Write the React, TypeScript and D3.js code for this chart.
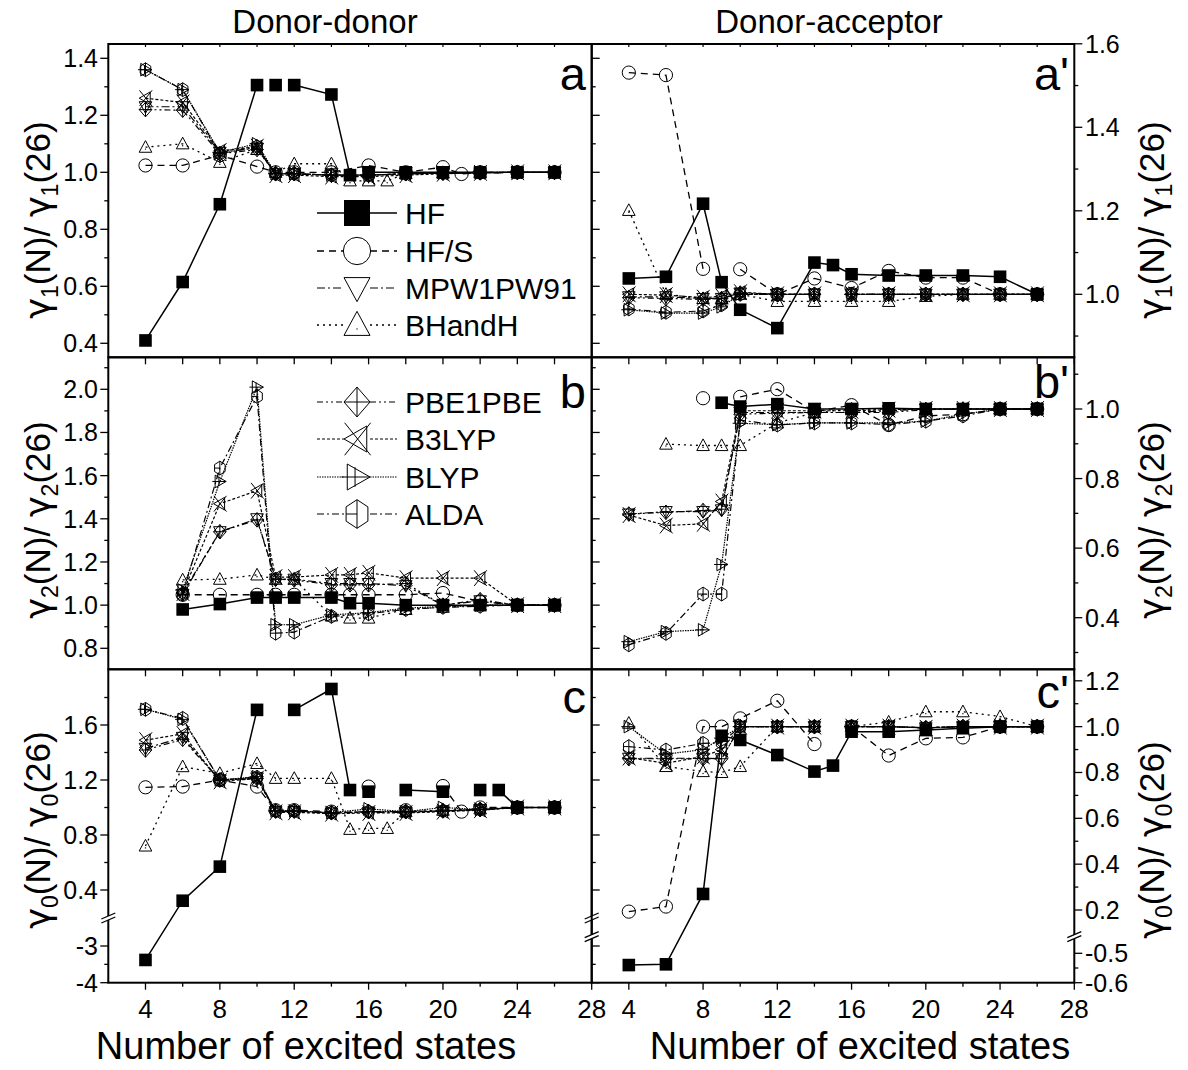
import React from 'react';
import * as d3 from 'd3';

if (typeof document !== 'undefined') document.body.style.margin = '0';

const FONT = '"Liberation Sans", Arial, Helvetica, sans-serif';
const GREEK = '"DejaVu Sans", "Liberation Sans", sans-serif';
const W = 1188;
const H = 1070;

type P = [number, number] | null;

// series order (legend order)
const NAMES = ['HF', 'HF/S', 'MPW1PW91', 'BHandH', 'PBE1PBE', 'B3LYP', 'BLYP', 'ALDA'];
const LEGEND_1 = ['HF', 'HF/S', 'MPW1PW91', 'BHandH'];
const LEGEND_2 = ['PBE1PBE', 'B3LYP', 'BLYP', 'ALDA'];

// ---------- panel a : gamma1, donor-donor ----------
const hfA: P[] = [[4, 0.41], [6, 0.615], [8, 0.888], [10, 1.306], null, [11, 1.306], null, [12, 1.306], [14, 1.273], [15, 0.99], null, [16, 1.0], [18, 1.0], [20, 1.0], [22, 1.0], [24, 1.0], [26, 1.0]];
const hfsA: P[] = [[4, 1.024], [6, 1.024], [8, 1.06], [10, 1.02], [11, 1.0], [12, 1.0], [14, 1.0], [16, 1.024], [18, 1.0], [20, 1.018], [21, 0.994], [22, 1.0], [24, 1.0], [26, 1.0]];
const mpwA: P[] = [[4, 1.23], [6, 1.23], [8, 1.07], [10, 1.085], [11, 0.995], [12, 0.995], [14, 0.99], [16, 0.99], [18, 0.995], [20, 0.997], [22, 0.998], [24, 1.0], [26, 1.0]];
const bhhA: P[] = [[4, 1.088], [6, 1.1], [8, 1.035], [10, 1.08], [11, 1.0], [12, 1.03], [14, 1.03], [15, 0.97], [16, 0.97], [17, 0.97], [18, 0.995], [20, 0.998], [22, 1.0], [24, 1.0], [26, 1.0]];
const pbeA: P[] = [[4, 1.22], [6, 1.218], [8, 1.065], [10, 1.08], [11, 0.995], [12, 0.995], [14, 0.99], [16, 0.99], [18, 0.995], [20, 0.997], [22, 0.998], [24, 1.0], [26, 1.0]];
const b3lypA: P[] = [[4, 1.26], [6, 1.245], [8, 1.075], [10, 1.09], [11, 0.99], [12, 0.99], [14, 0.985], [16, 0.985], [18, 0.99], [20, 0.995], [22, 0.998], [24, 1.0], [26, 1.0]];
const blypA: P[] = [[4, 1.36], [6, 1.29], [8, 1.07], [10, 1.1], [11, 0.995], [12, 0.995], [14, 0.99], [16, 0.99], [18, 0.995], [20, 0.997], [22, 0.998], [24, 1.0], [26, 1.0]];
const aldaA: P[] = [[4, 1.36], [6, 1.29], [8, 1.065], [10, 1.09], [11, 0.995], [12, 0.995], [14, 0.99], [16, 0.99], [18, 0.995], [20, 0.997], [22, 0.998], [24, 1.0], [26, 1.0]];

// ---------- panel a' : gamma1, donor-acceptor ----------
const hfA2: P[] = [[4, 1.038], [6, 1.042], [8, 1.217], [9, 1.029], [10, 0.963], [12, 0.919], [14, 1.076], [15, 1.07], [16, 1.048], [18, 1.045], [20, 1.045], [22, 1.045], [24, 1.042], [26, 1.0]];
const hfsA2: P[] = [[4, 1.531], [6, 1.525], [8, 1.061], null, [10, 1.06], [12, 1.0], [14, 1.038], [16, 1.015], [18, 1.056], [20, 1.04], [22, 1.04], [24, 1.0], [26, 1.0]];
const mpwA2: P[] = [[4, 0.994], [6, 0.994], [8, 0.99], [9, 0.99], [10, 1.003], [12, 1.0], [14, 1.0], null, [16, 1.0], [18, 1.0], [20, 1.0], [22, 1.0], [24, 1.0], [26, 1.0]];
const bhhA2: P[] = [[4, 1.201], [6, 1.0], [8, 0.99], [9, 0.99], [10, 1.0], [12, 0.983], [14, 0.983], [16, 0.983], [18, 0.983], [20, 0.995], [22, 1.0], [24, 1.0], [26, 1.0]];
const pbeA2: P[] = [[4, 0.992], [6, 0.99], [8, 0.988], [9, 0.99], [10, 1.003], [12, 1.0], [14, 1.0], null, [16, 1.0], [18, 1.0], [20, 1.0], [22, 1.0], [24, 1.0], [26, 1.0]];
const b3lypA2: P[] = [[4, 1.0], [6, 0.998], [8, 0.992], [9, 0.995], [10, 1.005], [12, 1.0], [14, 1.0], null, [16, 1.0], [18, 1.0], [20, 1.0], [22, 1.0], [24, 1.0], [26, 1.0]];
const blypA2: P[] = [[4, 0.963], [6, 0.955], [8, 0.955], [9, 0.97], [10, 1.0], [12, 1.0], [14, 1.0], null, [16, 1.0], [18, 1.0], [20, 1.0], [22, 1.0], [24, 1.0], [26, 1.0]];
const aldaA2: P[] = [[4, 0.965], [6, 0.957], [8, 0.96], [9, 0.975], [10, 1.0], [12, 1.0], [14, 1.0], null, [16, 1.0], [18, 1.0], [20, 1.0], [22, 1.0], [24, 1.0], [26, 1.0]];

// ---------- panel b : gamma2, donor-donor ----------
const hfB: P[] = [[6, 0.98], [8, 1.005], [10, 1.035], [11, 1.035], [12, 1.035], [14, 1.035], [15, 1.009], [16, 1.009], [18, 1.0], [20, 1.0], [22, 1.0], [24, 1.0], [26, 1.0]];
const hfsB: P[] = [[6, 1.048], [8, 1.048], [10, 1.048], [11, 1.048], [12, 1.048], [14, 1.048], [15, 1.048], [16, 1.048], [18, 1.048], [20, 1.056], [22, 1.017], [24, 1.0], [26, 1.0]];
const mpwB: P[] = [[6, 1.05], [8, 1.34], [10, 1.4], [11, 1.12], [12, 1.12], [14, 1.1], [15, 1.1], [16, 1.1], [18, 1.09], [20, 1.0], [22, 1.02], [24, 1.0], [26, 1.0]];
const bhhB: P[] = [[6, 1.117], [8, 1.12], [10, 1.14], [11, 1.12], [12, 1.12], [14, 0.95], [15, 0.94], [16, 0.94], [18, 0.98], [20, 0.99], [22, 1.0], [24, 1.0], [26, 1.0]];
const pbeB: P[] = [[6, 1.056], [8, 1.34], [10, 1.395], [11, 1.12], [12, 1.117], [14, 1.094], [15, 1.094], [16, 1.094], [18, 1.1], [20, 1.0], [22, 1.025], [24, 1.0], [26, 1.0]];
const b3lypB: P[] = [[6, 1.056], [8, 1.47], [10, 1.53], [11, 1.13], [12, 1.13], [14, 1.14], [15, 1.14], [16, 1.15], [18, 1.125], [20, 1.125], [22, 1.125], [24, 1.0], [26, 1.0]];
const blypB: P[] = [[6, 1.07], [8, 1.573], [10, 2.01], [11, 0.909], [12, 0.909], [14, 0.955], [16, 0.965], [18, 0.986], [20, 0.994], [22, 1.0], [24, 1.0], [26, 1.0]];
const aldaB: P[] = [[6, 1.05], [8, 1.635], [10, 1.967], [11, 0.87], [12, 0.875], [14, 0.948], [16, 0.96], [18, 0.98], [20, 0.99], [22, 0.995], [24, 1.0], [26, 1.0]];

// ---------- panel b' : gamma2, donor-acceptor ----------
const hfB2: P[] = [[9, 1.018], [10, 1.007], [12, 1.014], [14, 1.0], [16, 1.0], [18, 1.002], [20, 1.0], [22, 1.0], [24, 1.0], [26, 1.0]];
const hfsB2: P[] = [[8, 1.031], null, [10, 1.035], [12, 1.057], [14, 0.992], [16, 1.011], [18, 0.954], [20, 0.98], [22, 0.985], [24, 1.0], [26, 1.0]];
const mpwB2: P[] = [[4, 0.698], [6, 0.705], [8, 0.705], [9, 0.71], [10, 0.99], [12, 0.99], [14, 0.99], [16, 0.99], [18, 0.995], [20, 1.0], [22, 1.0], [24, 1.0], [26, 1.0]];
const bhhB2: P[] = [[6, 0.899], [8, 0.895], [9, 0.895], [10, 0.895], [12, 0.96], [14, 0.99], [16, 1.0], [18, 1.0], [20, 1.0], [22, 1.0], [24, 1.0], [26, 1.0]];
const pbeB2: P[] = [[4, 0.698], [6, 0.703], [8, 0.708], [9, 0.712], [10, 0.985], [12, 0.988], [14, 0.99], [16, 0.99], [18, 0.99], [20, 0.998], [22, 1.0], [24, 1.0], [26, 1.0]];
const b3lypB2: P[] = [[4, 0.695], [6, 0.665], [8, 0.67], [9, 0.734], [10, 0.995], [12, 0.995], [14, 0.995], [16, 0.995], [18, 0.998], [20, 1.0], [22, 1.0], [24, 1.0], [26, 1.0]];
const blypB2: P[] = [[4, 0.331], [6, 0.36], [8, 0.365], [9, 0.553], [10, 0.959], [12, 0.955], [14, 0.96], [16, 0.96], [18, 0.96], [20, 0.965], [22, 0.985], [24, 1.0], [26, 1.0]];
const aldaB2: P[] = [[4, 0.322], [6, 0.355], [8, 0.468], [9, 0.468], [10, 0.968], [12, 0.954], [14, 0.96], [16, 0.96], [18, 0.955], [20, 0.965], [22, 0.98], [24, 1.0], [26, 1.0]];

// ---------- panel c : gamma0, donor-donor (broken axis) ----------
const hfC: P[] = [[4, -3.38], [6, 0.322], [8, 0.57], [10, 1.71], null, [12, 1.71], [14, 1.862], [15, 1.127], null, [16, 1.115], null, [18, 1.127], [20, 1.115], null, [22, 1.127], null, [23, 1.127], [24, 1.0], [26, 1.0]];
const hfsC: P[] = [[4, 1.147], [6, 1.152], [8, 1.2], [10, 1.152], [11, 0.98], [12, 0.98], [14, 0.97], null, [16, 1.152], null, [18, 0.98], null, [20, 1.156], [21, 0.97], [22, 1.0], [24, 1.0], [26, 1.0]];
const mpwC: P[] = [[4, 1.43], [6, 1.51], [8, 1.2], [10, 1.215], [11, 0.97], [12, 0.97], [14, 0.96], [16, 0.965], [18, 0.965], [20, 0.975], [22, 0.985], [24, 1.0], [26, 1.0]];
const bhhC: P[] = [[4, 0.72], [6, 1.297], [8, 1.248], [10, 1.32], [11, 1.212], [12, 1.212], [14, 1.212], [15, 0.841], [16, 0.848], [17, 0.848], [18, 0.97], [20, 0.98], [22, 0.99], [24, 1.0], [26, 1.0]];
const pbeC: P[] = [[4, 1.418], [6, 1.496], [8, 1.2], [10, 1.21], [11, 0.975], [12, 0.975], [14, 0.962], [16, 0.97], [18, 0.97], [20, 0.975], [22, 0.985], [24, 1.0], [26, 1.0]];
const b3lypC: P[] = [[4, 1.49], [6, 1.535], [8, 1.19], [10, 1.21], [11, 0.965], [12, 0.965], [14, 0.955], [16, 0.96], [18, 0.96], [20, 0.97], [22, 0.98], [24, 1.0], [26, 1.0]];
const blypC: P[] = [[4, 1.714], [6, 1.641], [8, 1.2], [10, 1.224], [11, 0.975], [12, 0.975], [14, 0.962], [16, 0.99], [18, 0.97], [20, 1.0], [22, 0.985], [24, 1.0], [26, 1.0]];
const aldaC: P[] = [[4, 1.714], [6, 1.648], [8, 1.2], [10, 1.22], [11, 0.975], [12, 0.975], [14, 0.962], [16, 0.97], [18, 0.97], [20, 0.975], [22, 0.985], [24, 1.0], [26, 1.0]];

// ---------- panel c' : gamma0, donor-acceptor (broken axis) ----------
const hfC2: P[] = [[4, -0.54], [6, -0.5375], [8, 0.27], [9, 0.96], [10, 0.942], [12, 0.876], [14, 0.804], [15, 0.83], [16, 0.978], [18, 0.978], [20, 0.985], [22, 0.993], [24, 1.0], [26, 1.0]];
const hfsC2: P[] = [[4, 0.193], [6, 0.215], [8, 1.0], [9, 1.0], [10, 1.036], [12, 1.113], [14, 0.924], null, [16, 1.0], [18, 0.874], [20, 0.949], [22, 0.953], [24, 1.0], [26, 1.0]];
const mpwC2: P[] = [[4, 0.862], [6, 0.862], [8, 0.862], [9, 0.86], [10, 1.0], [12, 1.0], [14, 1.0], null, [16, 1.0], [18, 1.0], [20, 0.995], [22, 1.0], [24, 1.0], [26, 1.0]];
const bhhC2: P[] = [[4, 1.015], [6, 0.826], [8, 0.804], [9, 0.8], [10, 0.826], [12, 1.0], [14, 1.0], null, [16, 1.0], [18, 1.02], [20, 1.065], [22, 1.065], [24, 1.044], [26, 1.0]];
const pbeC2: P[] = [[4, 0.86], [6, 0.86], [8, 0.86], [9, 0.86], [10, 1.0], [12, 1.0], [14, 1.0], null, [16, 1.0], [18, 1.0], [20, 0.995], [22, 1.0], [24, 1.0], [26, 1.0]];
const b3lypC2: P[] = [[4, 0.865], [6, 0.84], [8, 0.87], [9, 0.9], [10, 1.0], [12, 1.0], [14, 1.0], null, [16, 1.0], [18, 1.0], [20, 0.995], [22, 1.0], [24, 1.0], [26, 1.0]];
const blypC2: P[] = [[4, 1.0], [6, 0.88], [8, 0.9], [9, 0.95], [10, 1.0], [12, 1.0], [14, 1.0], null, [16, 1.0], [18, 1.0], [20, 0.995], [22, 1.0], [24, 1.0], [26, 1.0]];
const aldaC2: P[] = [[4, 0.913], [6, 0.898], [8, 0.927], [9, 0.93], [10, 1.0], [12, 1.0], [14, 1.0], null, [16, 1.0], [18, 1.0], [20, 0.995], [22, 1.0], [24, 1.0], [26, 1.0]];

// ---------- ticks ----------
const X_MAJOR = [4, 8, 12, 16, 20, 24, 28];
const X_MINOR = [6, 10, 14, 18, 22, 26];
const X_ALL = [4, 6, 8, 10, 12, 14, 16, 18, 20, 22, 24, 26];

const TICKS_A = [0.4, 0.6, 0.8, 1.0, 1.2, 1.4];
const MINOR_A = [0.5, 0.7, 0.9, 1.1, 1.3];
const TICKS_A2 = [1.0, 1.2, 1.4, 1.6];
const MINOR_A2 = [0.9, 1.1, 1.3, 1.5];
const TICKS_B = [0.8, 1.0, 1.2, 1.4, 1.6, 1.8, 2.0];
const MINOR_B = [0.9, 1.1, 1.3, 1.5, 1.7, 1.9, 2.1];
const TICKS_B2 = [0.4, 0.6, 0.8, 1.0];
const MINOR_B2 = [0.3, 0.5, 0.7, 0.9, 1.1];
const TICKS_C = [-4, -3, 0.4, 0.8, 1.2, 1.6];
const MINOR_C = [-3.5, 0.6, 1.0, 1.4, 1.8];
const TICKS_C2 = [-0.6, -0.5, 0.2, 0.4, 0.6, 0.8, 1.0, 1.2];
const MINOR_C2 = [-0.55, 0.3, 0.5, 0.7, 0.9, 1.1];

// ---------- geometry ----------
const LEFT_X0 = 108.3;
const MID_X = 591.7;
const RIGHT_X1 = 1074.3;
const ROWS = [44, 357.3, 669.3, 982.7];

const xLeft = d3.scaleLinear().domain([2, 28]).range([LEFT_X0, MID_X]);
const xRight = d3.scaleLinear().domain([2, 28]).range([MID_X, RIGHT_X1]);

const yA = d3.scaleLinear().domain([0.4, 1.4]).range([343.3, 58.3]);
const yA2 = d3.scaleLinear().domain([1.0, 1.6]).range([294.3, 43.8]);
const yB = d3.scaleLinear().domain([0.8, 2.0]).range([648.3, 389.3]);
const yB2 = d3.scaleLinear().domain([0.4, 1.0]).range([617.7, 409]);

const BREAK_C = 918;
const BREAK_C2 = 936.7;
function broken(upper: d3.ScaleLinear<number, number>, lower: d3.ScaleLinear<number, number>, breakY: number) {
  const lim = lower.invert(breakY);
  return (v: number) => (v > lim ? upper(v) : lower(v));
}
const yC = broken(
  d3.scaleLinear().domain([0.4, 1.6]).range([890, 725]),
  d3.scaleLinear().domain([-4, -3]).range([982.7, 946]),
  BREAK_C
);
const yC2 = broken(
  d3.scaleLinear().domain([0.2, 1.2]).range([910, 680.8]),
  d3.scaleLinear().domain([-0.6, -0.5]).range([982.7, 953.3]),
  BREAK_C2
);

const fmt1 = (v: number) => v.toFixed(1);
const fmtC = (v: number) => (v <= -3 ? String(v) : v.toFixed(1));

const STYLE: Record<string, { marker: string; dash: string | null; width: number }> = {
  HF: { marker: 'square', dash: null, width: 1.5 },
  'HF/S': { marker: 'circle', dash: '7 5', width: 1.3 },
  MPW1PW91: { marker: 'down', dash: '8 3 2 3', width: 1.2 },
  BHandH: { marker: 'up', dash: '2 4', width: 1.3 },
  PBE1PBE: { marker: 'diamond', dash: '6 3 2 3 2 3', width: 1.2 },
  B3LYP: { marker: 'xtri', dash: '3 2', width: 1.2 },
  BLYP: { marker: 'rtri', dash: '1.5 1', width: 1.2 },
  ALDA: { marker: 'hex', dash: '7 3 2 3', width: 1.2 },
};

interface Panel {
  key: string;
  side: 'left' | 'right';
  row: number;
  y: (v: number) => number;
  series: P[][];
  major: number[];
  minor: number[];
  fmt: (v: number) => string;
  letter: string;
  letterY: number;
  breakY?: number;
}

const PANELS: Panel[] = [
  { key: 'a', side: 'left', row: 0, y: yA, series: [hfA, hfsA, mpwA, bhhA, pbeA, b3lypA, blypA, aldaA], major: TICKS_A, minor: MINOR_A, fmt: fmt1, letter: 'a', letterY: 90 },
  { key: 'a2', side: 'right', row: 0, y: yA2, series: [hfA2, hfsA2, mpwA2, bhhA2, pbeA2, b3lypA2, blypA2, aldaA2], major: TICKS_A2, minor: MINOR_A2, fmt: fmt1, letter: "a'", letterY: 90 },
  { key: 'b', side: 'left', row: 1, y: yB, series: [hfB, hfsB, mpwB, bhhB, pbeB, b3lypB, blypB, aldaB], major: TICKS_B, minor: MINOR_B, fmt: fmt1, letter: 'b', letterY: 408 },
  { key: 'b2', side: 'right', row: 1, y: yB2, series: [hfB2, hfsB2, mpwB2, bhhB2, pbeB2, b3lypB2, blypB2, aldaB2], major: TICKS_B2, minor: MINOR_B2, fmt: fmt1, letter: "b'", letterY: 398 },
  { key: 'c', side: 'left', row: 2, y: yC, series: [hfC, hfsC, mpwC, bhhC, pbeC, b3lypC, blypC, aldaC], major: TICKS_C, minor: MINOR_C, fmt: fmtC, letter: 'c', letterY: 713, breakY: BREAK_C },
  { key: 'c2', side: 'right', row: 2, y: yC2, series: [hfC2, hfsC2, mpwC2, bhhC2, pbeC2, b3lypC2, blypC2, aldaC2], major: TICKS_C2, minor: MINOR_C2, fmt: fmt1, letter: "c'", letterY: 708, breakY: BREAK_C2 },
];

const pts = (a: number[][]) => a.map((p) => p.join(',')).join(' ');

function Marker({ type, x, y, s }: { type: string; x: number; y: number; s: number }) {
  const st = { fill: 'none', stroke: '#000', strokeWidth: 1 };
  switch (type) {
    case 'square':
      return <rect x={x - s} y={y - s} width={2 * s} height={2 * s} fill="#000" />;
    case 'circle':
      return <circle cx={x} cy={y} r={s * 1.05} {...st} />;
    case 'down':
      return <polygon points={pts([[x - s, y - 0.8 * s], [x + s, y - 0.8 * s], [x, y + 1.05 * s]])} {...st} />;
    case 'up':
      return (
        <g>
          <polygon points={pts([[x - s, y + 0.8 * s], [x + s, y + 0.8 * s], [x, y - 1.05 * s]])} {...st} />
          <circle cx={x} cy={y + 0.3 * s} r={0.7} fill="#000" />
        </g>
      );
    case 'diamond':
      return (
        <g {...st}>
          <polygon points={pts([[x, y - 1.15 * s], [x + s, y], [x, y + 1.15 * s], [x - s, y]])} />
          <line x1={x - s} y1={y} x2={x + s} y2={y} />
          <line x1={x} y1={y - 1.15 * s} x2={x} y2={y + 1.15 * s} />
        </g>
      );
    case 'xtri':
      return (
        <g {...st}>
          <polygon points={pts([[x - s, y], [x + 0.75 * s, y - s], [x + 0.75 * s, y + s]])} />
          <line x1={x - 0.95 * s} y1={y - 1.25 * s} x2={x + 1.05 * s} y2={y + 1.25 * s} />
          <line x1={x - 0.95 * s} y1={y + 1.25 * s} x2={x + 1.05 * s} y2={y - 1.25 * s} />
        </g>
      );
    case 'rtri':
      return (
        <g {...st}>
          <polygon points={pts([[x + s, y], [x - 0.75 * s, y - s], [x - 0.75 * s, y + s]])} />
          <line x1={x - 1.2 * s} y1={y} x2={x + s} y2={y} />
          <line x1={x - 0.15 * s} y1={y - 0.75 * s} x2={x - 0.15 * s} y2={y + 0.75 * s} />
        </g>
      );
    case 'hex': {
      const r = 1.1 * s;
      const hp = d3.range(6).map((i) => {
        const a = -Math.PI / 2 + (i * Math.PI) / 3;
        return [x + r * 0.88 * Math.cos(a), y + r * Math.sin(a)];
      });
      return (
        <g {...st}>
          <polygon points={pts(hp)} />
          <line x1={x} y1={y - r} x2={x} y2={y + r} />
          <line x1={x - r * 0.76} y1={y} x2={x} y2={y} />
        </g>
      );
    }
    default:
      return null;
  }
}

function BreakMark({ x, y }: { x: number; y: number }) {
  return (
    <g>
      <polygon points={pts([[x - 7, y + 1], [x + 7, y - 5], [x + 7, y - 1], [x - 7, y + 5]])} fill="#fff" />
      <line x1={x - 7} y1={y + 1} x2={x + 7} y2={y - 5} stroke="#000" strokeWidth={1.3} />
      <line x1={x - 7} y1={y + 5} x2={x + 7} y2={y - 1} stroke="#000" strokeWidth={1.3} />
    </g>
  );
}

function YTitle({ x, y, sub }: { x: number; y: number; sub: string }) {
  return (
    <text transform={`translate(${x},${y}) rotate(-90)`} textAnchor="middle" fontSize={35} fontFamily={FONT} fill="#000">
      <tspan fontFamily={GREEK}>γ</tspan>
      <tspan fontSize={23} dy={8}>{sub}</tspan>
      <tspan dy={-8}>(N)/ </tspan>
      <tspan fontFamily={GREEK}>γ</tspan>
      <tspan fontSize={23} dy={8}>{sub}</tspan>
      <tspan dy={-8}>(26)</tspan>
    </text>
  );
}

function PanelView({ p }: { p: Panel }) {
  const xs = p.side === 'left' ? xLeft : xRight;
  const x0 = p.side === 'left' ? LEFT_X0 : MID_X;
  const x1 = p.side === 'left' ? MID_X : RIGHT_X1;
  const top = ROWS[p.row];
  const bottom = ROWS[p.row + 1];
  const line = d3
    .line<P>()
    .defined((d) => d !== null)
    .x((d) => xs((d as [number, number])[0]))
    .y((d) => p.y((d as [number, number])[1]));

  const yTick = (v: number, len: number, k: string) => {
    const yy = p.y(v);
    if (p.side === 'left') {
      return (
        <g key={k}>
          <line x1={x0 - len} x2={x0} y1={yy} y2={yy} stroke="#000" strokeWidth={1.3} />
          <line x1={x1} x2={x1 + len} y1={yy} y2={yy} stroke="#000" strokeWidth={1.3} />
        </g>
      );
    }
    return <line key={k} x1={x1} x2={x1 + len} y1={yy} y2={yy} stroke="#000" strokeWidth={1.3} />;
  };

  return (
    <g>
      {/* data lines */}
      {p.series.map((s, i) => {
        const st = STYLE[NAMES[i]];
        return (
          <path
            key={'l' + i}
            d={line(s) ?? ''}
            fill="none"
            stroke="#000"
            strokeWidth={st.width}
            strokeDasharray={st.dash ?? undefined}
          />
        );
      })}
      {/* markers */}
      {p.series.map((s, i) => (
        <g key={'m' + i}>
          {s.filter((d): d is [number, number] => d !== null).map((d, j) => (
            <Marker key={j} type={STYLE[NAMES[i]].marker} x={xs(d[0])} y={p.y(d[1])} s={6.3} />
          ))}
        </g>
      ))}

      {/* frame */}
      <rect x={x0} y={top} width={x1 - x0} height={bottom - top} fill="none" stroke="#000" strokeWidth={2} />

      {/* y ticks */}
      {p.major.map((v) => yTick(v, 8, 'M' + v))}
      {p.minor.map((v) => yTick(v, 4, 'm' + v))}
      {p.major.map((v) =>
        p.side === 'left' ? (
          <text key={'t' + v} x={98} y={p.y(v)} dy="0.36em" textAnchor="end" fontSize={25} fontFamily={FONT}>
            {p.fmt(v)}
          </text>
        ) : (
          <text key={'t' + v} x={1085} y={p.y(v)} dy="0.36em" textAnchor="start" fontSize={25} fontFamily={FONT}>
            {p.fmt(v)}
          </text>
        )
      )}

      {/* x ticks on the bottom edge, pointing outward */}
      {X_MAJOR.map((v) => (
        <line key={'xM' + v} x1={xs(v)} x2={xs(v)} y1={bottom} y2={bottom + 7} stroke="#000" strokeWidth={1.3} />
      ))}
      {X_MINOR.map((v) => (
        <line key={'xm' + v} x1={xs(v)} x2={xs(v)} y1={bottom} y2={bottom + (p.row === 2 ? 4 : 7)} stroke="#000" strokeWidth={1.3} />
      ))}
      {p.row === 0 &&
        X_ALL.map((v) => (
          <line key={'xt' + v} x1={xs(v)} x2={xs(v)} y1={top} y2={top + 3} stroke="#000" strokeWidth={1.2} />
        ))}
      {p.row === 2 &&
        X_MAJOR.map((v) => (
          <text key={'xl' + v} x={xs(v)} y={1018} textAnchor="middle" fontSize={26} fontFamily={FONT}>
            {v}
          </text>
        ))}

      {/* axis breaks */}
      {p.breakY !== undefined && (
        <g>
          <BreakMark x={x0} y={p.breakY} />
          <BreakMark x={x1} y={p.breakY} />
        </g>
      )}

      {/* panel letter */}
      <text x={p.side === 'left' ? 586 : 1069} y={p.letterY} textAnchor="end" fontSize={47} fontFamily={FONT}>
        {p.letter}
      </text>
    </g>
  );
}

function Legend({ names, rows }: { names: string[]; rows: number[] }) {
  const lx0 = 317;
  const lx1 = 397;
  const mx = 357;
  const s = 13;
  return (
    <g>
      {names.map((n, i) => {
        const st = STYLE[n];
        const yy = rows[i];
        return (
          <g key={n}>
            <line x1={lx0} x2={mx - s} y1={yy} y2={yy} stroke="#000" strokeWidth={st.width} strokeDasharray={st.dash ?? undefined} />
            <line x1={mx + s} x2={lx1} y1={yy} y2={yy} stroke="#000" strokeWidth={st.width} strokeDasharray={st.dash ?? undefined} />
            <Marker type={st.marker} x={mx} y={yy} s={s} />
            <text x={405} y={yy} dy="0.36em" fontSize={30} fontFamily={FONT}>
              {n}
            </text>
          </g>
        );
      })}
    </g>
  );
}

export default function App() {
  return (
    <svg width={W} height={H} viewBox={`0 0 ${W} ${H}`} style={{ display: 'block', background: '#fff' }}>
      <rect x={0} y={0} width={W} height={H} fill="#fff" />
      <text x={325} y={33} textAnchor="middle" fontSize={33} fontFamily={FONT}>
        Donor-donor
      </text>
      <text x={829} y={33} textAnchor="middle" fontSize={33} fontFamily={FONT}>
        Donor-acceptor
      </text>

      {PANELS.map((p) => (
        <PanelView key={p.key} p={p} />
      ))}

      <Legend names={LEGEND_1} rows={[213, 251, 288, 325]} />
      <Legend names={LEGEND_2} rows={[402, 439, 477, 514]} />

      <YTitle x={50} y={220} sub="1" />
      <YTitle x={50} y={520} sub="2" />
      <YTitle x={50} y={830} sub="0" />
      <YTitle x={1164} y={220} sub="1" />
      <YTitle x={1164} y={520} sub="2" />
      <YTitle x={1164} y={840} sub="0" />

      <text x={306} y={1059} textAnchor="middle" fontSize={38} fontFamily={FONT}>
        Number of excited states
      </text>
      <text x={860} y={1059} textAnchor="middle" fontSize={38} fontFamily={FONT}>
        Number of excited states
      </text>
    </svg>
  );
}
